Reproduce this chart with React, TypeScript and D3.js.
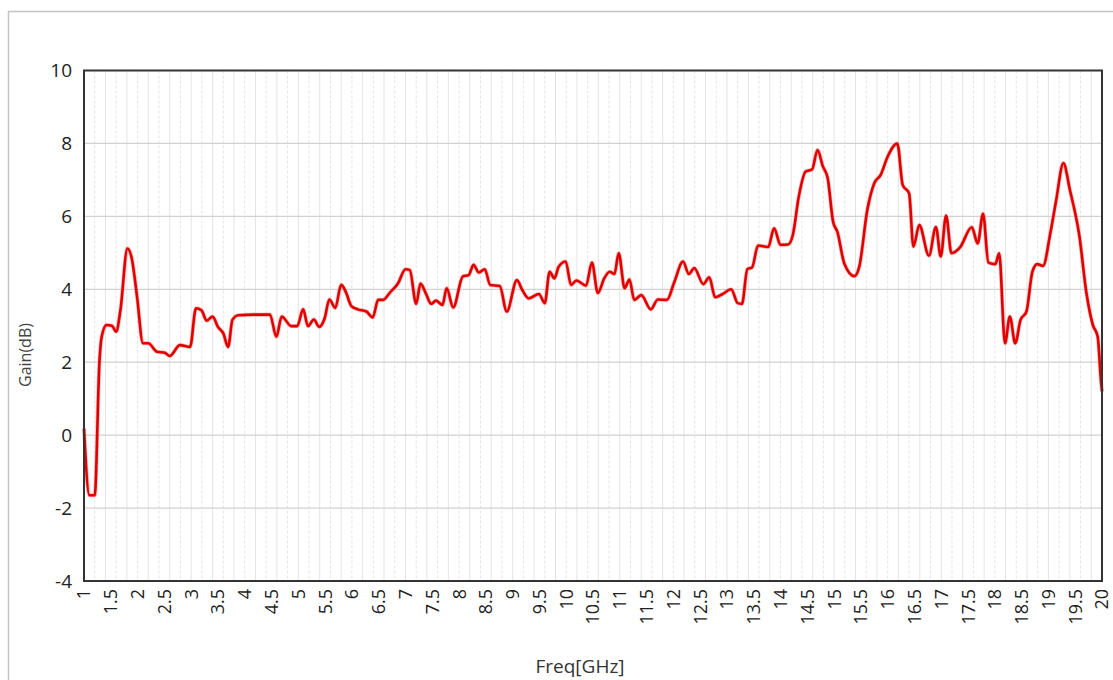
import React from "react";
import * as d3 from "d3";

const freqGHz: number[] = [
  1.0, 1.1, 1.2, 1.29, 1.33, 1.42, 1.52, 1.6, 1.68, 1.81, 1.89, 1.99, 2.1, 2.2, 2.36, 2.51, 2.6, 2.79, 2.98,
  3.09, 3.19, 3.29, 3.4, 3.5, 3.6, 3.69, 3.77, 3.88, 4.47, 4.59, 4.69, 4.87, 4.98, 5.09, 5.18, 5.29, 5.39,
  5.49, 5.58, 5.69, 5.8, 5.88, 5.99, 6.11, 6.27, 6.39, 6.49, 6.58, 6.71, 6.86, 7.0, 7.08, 7.2, 7.28, 7.38,
  7.48, 7.57, 7.69, 7.77, 7.89, 8.07, 8.18, 8.27, 8.37, 8.48, 8.58, 8.76, 8.89, 9.08, 9.18, 9.3, 9.49, 9.6,
  9.69, 9.78, 9.86, 9.99, 10.09, 10.19, 10.37, 10.48, 10.59, 10.71, 10.81, 10.9, 10.98, 11.09, 11.18, 11.27,
  11.4, 11.58, 11.71, 11.88, 12.02, 12.18, 12.29, 12.39, 12.56, 12.67, 12.78, 12.92, 13.08, 13.2, 13.28,
  13.38, 13.47, 13.58, 13.77, 13.88, 14.0, 14.14, 14.23, 14.34, 14.47, 14.59, 14.69, 14.79, 14.88, 14.98,
  15.06, 15.19, 15.38, 15.47, 15.62, 15.75, 15.87, 16.0, 16.18, 16.28, 16.4, 16.48, 16.59, 16.77, 16.9,
  16.99, 17.09, 17.19, 17.35, 17.57, 17.68, 17.78, 17.88, 18.01, 18.08, 18.19, 18.28, 18.38, 18.48, 18.59,
  18.7, 18.79, 18.9, 19.03, 19.14, 19.28, 19.4, 19.58, 19.71, 19.83, 19.92, 19.98, 20.0,
];

const gainDb: number[] = [
  0.18, -1.65, -1.65, 2.06, 2.7, 3.02, 3.0, 2.84, 3.43, 5.12, 4.86, 3.8, 2.52, 2.52, 2.29, 2.26, 2.17, 2.47, 2.42,
  3.48, 3.43, 3.14, 3.25, 2.97, 2.79, 2.42, 3.16, 3.29, 3.31, 2.7, 3.25, 2.99, 2.99, 3.45, 2.99, 3.17, 2.97,
  3.2, 3.72, 3.49, 4.12, 3.95, 3.54, 3.45, 3.39, 3.23, 3.71, 3.71, 3.91, 4.16, 4.55, 4.53, 3.6, 4.16, 3.89,
  3.6, 3.69, 3.57, 4.03, 3.5, 4.35, 4.39, 4.67, 4.46, 4.55, 4.12, 4.09, 3.39, 4.25, 3.98, 3.75, 3.87, 3.62,
  4.48, 4.3, 4.62, 4.76, 4.12, 4.24, 4.1, 4.73, 3.9, 4.3, 4.48, 4.42, 4.99, 4.03, 4.27, 3.71,
  3.84, 3.45, 3.72, 3.71, 4.21, 4.76, 4.42, 4.58, 4.14, 4.33, 3.78, 3.87, 4.0, 3.62, 3.6,
  4.55, 4.6, 5.2, 5.16, 5.67, 5.22, 5.23, 5.49, 6.54, 7.23, 7.29, 7.82, 7.37, 7.05, 5.86,
  5.58, 4.71, 4.36, 4.62, 6.18, 6.91, 7.14, 7.64, 8.0, 6.86, 6.63, 5.17, 5.76, 4.92, 5.71,
  4.9, 6.02, 4.99, 5.15, 5.7, 5.26, 6.07, 4.73, 4.69, 4.99, 2.52, 3.25, 2.52, 3.16, 3.39,
  4.48, 4.69, 4.64, 5.49, 6.4, 7.46, 6.73, 5.44, 3.89, 3.02, 2.7, 1.5, 1.2,
];

const xTicks: number[] = d3.range(1, 20.001, 0.5);
const yTicks: number[] = [-4, -2, 0, 2, 4, 6, 8, 10];
const xMinorGrid: number[] = d3.range(1.2, 20, 0.2);
const xLabel = "Freq[GHz]";
const yLabel = "Gain(dB)";

export default function App() {
  const W = 1113;
  const H = 680;
  const left = 84;
  const right = 1102;
  const top = 70.5;
  const bottom = 581;

  const x = d3.scaleLinear().domain([1, 20]).range([left, right]);
  const y = d3.scaleLinear().domain([-4, 10]).range([bottom, top]);

  const data = freqGHz.map((f, i) => ({ f, g: gainDb[i] }));
  const line = d3
    .line<{ f: number; g: number }>()
    .x((d) => x(d.f))
    .y((d) => y(d.g))
    .curve(d3.curveMonotoneX);

  const fmt = (v: number) => (Number.isInteger(v) ? String(v) : v.toFixed(1));
  const font = "'Open Sans', 'Noto Sans', sans-serif";

  return (
    <svg
      width={W}
      height={H}
      style={{ position: "absolute", left: 0, top: 0, background: "#fff" }}
      fontFamily={font}
    >
      <rect x={8.5} y={11.5} width={1200} height={800} fill="#fff" stroke="#c4c4c4" strokeWidth={1.5} />

      {/* minor vertical grid */}
      {xMinorGrid.map((f, i) => (
        <line
          key={"vg" + i}
          x1={x(f)}
          x2={x(f)}
          y1={top}
          y2={bottom}
          stroke="#e4e4e4"
          strokeWidth={1}
          strokeDasharray={i % 2 === 0 ? "3,2" : undefined}
        />
      ))}

      {/* horizontal grid */}
      {yTicks.map((v) => (
        <line key={"hg" + v} x1={left} x2={right} y1={y(v)} y2={y(v)} stroke="#d2d2d2" strokeWidth={1.2} />
      ))}

      {/* curve */}
      <path d={line(data) || ""} fill="none" stroke="#ff3030" strokeWidth={4} strokeOpacity={0.35} strokeLinejoin="round" />
      <path d={line(data) || ""} fill="none" stroke="#e00000" strokeWidth={2.6} strokeLinejoin="round" />

      {/* frame */}
      <rect x={left} y={top} width={right - left} height={bottom - top} fill="none" stroke="#333" strokeWidth={2} />

      {/* y tick labels */}
      {yTicks.map((v) => (
        <text key={"yt" + v} x={72} y={y(v)} dy="0.36em" textAnchor="end" fontSize={19} fill="#222">
          {v}
        </text>
      ))}

      {/* x tick labels */}
      {xTicks.map((f) => (
        <text
          key={"xt" + f}
          transform={`translate(${x(f)},${589}) rotate(-90)`}
          dy="0.36em"
          textAnchor="end"
          fontSize={18}
          fill="#222"
        >
          {fmt(f)}
        </text>
      ))}

      <text transform={`translate(31,355) rotate(-90)`} textAnchor="middle" fontSize={16} fill="#444">
        {yLabel}
      </text>
      <text x={580} y={673} textAnchor="middle" fontSize={19} fill="#333">
        {xLabel}
      </text>
    </svg>
  );
}
